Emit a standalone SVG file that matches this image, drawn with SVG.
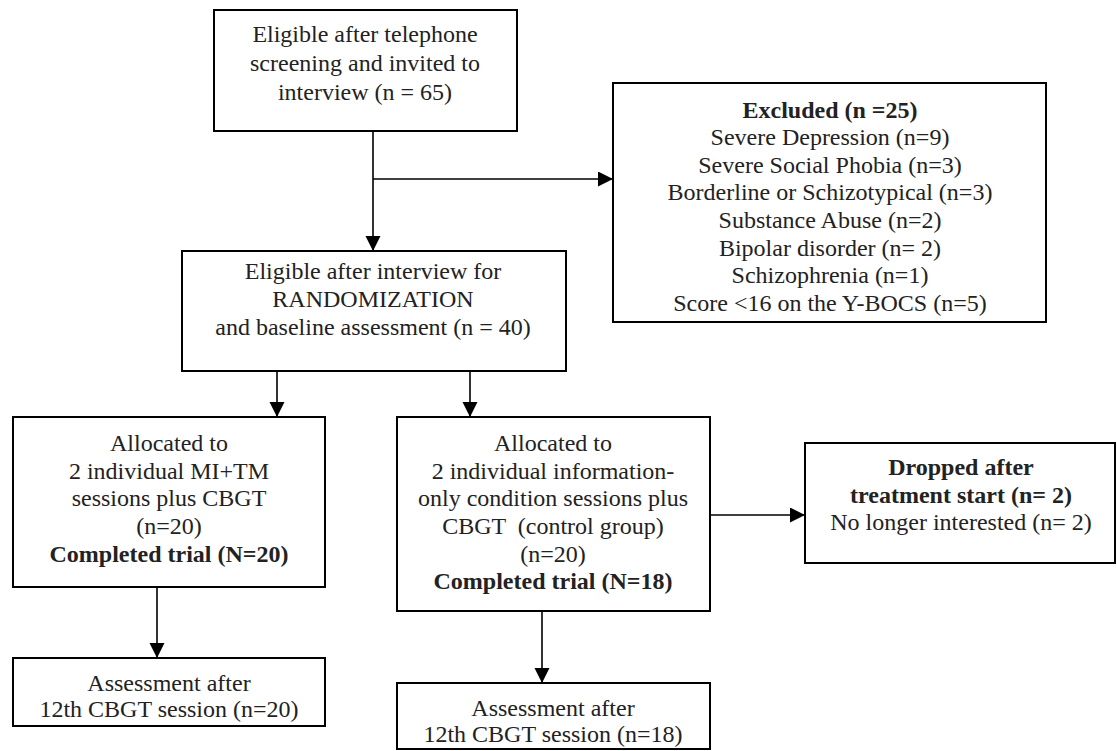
<svg xmlns="http://www.w3.org/2000/svg" width="1117" height="751" viewBox="0 0 1117 751" font-family="'Liberation Serif', 'Times New Roman', serif">
<style>
.box{fill:#fff;stroke:#000;stroke-width:2}
text{font-family:'Liberation Serif','Times New Roman',serif;font-size:24px;fill:#222;text-anchor:middle;white-space:pre}
.b{font-weight:bold}
.c{stroke:#000;stroke-width:1.6;fill:none;marker-end:url(#ah)}
</style>
<defs>
<marker id="ah" markerUnits="userSpaceOnUse" markerWidth="16" markerHeight="16" refX="15" refY="7.5" orient="auto">
<path d="M0,0 L15,7.5 L0,15 z" fill="#000"/>
</marker>
</defs>
<rect width="1117" height="751" fill="#fff"/>
<g id="connectors">
<line class="c" x1="373" y1="131" x2="373" y2="251"/>
<line class="c" x1="373" y1="179" x2="613" y2="179"/>
<line class="c" x1="277" y1="371" x2="277" y2="417"/>
<line class="c" x1="470" y1="371" x2="470" y2="417"/>
<line class="c" x1="710" y1="515" x2="805" y2="515"/>
<line class="c" x1="157" y1="587" x2="157" y2="658"/>
<line class="c" x1="542" y1="611" x2="542" y2="683"/>
</g>
<g id="n1">
<rect class="box" x="214" y="10" width="303" height="121"/>
<text x="365" y="42">Eligible after telephone</text>
<text x="365" y="71">screening and invited to</text>
<text x="365" y="100">interview (n = 65)</text>
</g>
<g id="excluded">
<rect class="box" x="613" y="83" width="433" height="239"/>
<text x="830" y="118" class="b">Excluded (n =25)</text>
<text x="830" y="145">Severe Depression (n=9)</text>
<text x="830" y="173">Severe Social Phobia (n=3)</text>
<text x="830" y="200">Borderline or Schizotypical (n=3)</text>
<text x="830" y="228">Substance Abuse (n=2)</text>
<text x="830" y="256">Bipolar disorder (n= 2)</text>
<text x="830" y="283">Schizophrenia (n=1)</text>
<text x="830" y="311">Score &lt;16 on the Y-BOCS (n=5)</text>
</g>
<g id="n2">
<rect class="box" x="182" y="251" width="384" height="120"/>
<text x="373" y="279">Eligible after interview for</text>
<text x="373" y="307">RANDOMIZATION</text>
<text x="373" y="335">and baseline assessment (n = 40)</text>
</g>
<g id="n3">
<rect class="box" x="13" y="417" width="312" height="170"/>
<text x="169" y="451">Allocated to</text>
<text x="169" y="479">2 individual MI+TM</text>
<text x="169" y="506">sessions plus CBGT</text>
<text x="169" y="534">(n=20)</text>
<text x="169" y="562" class="b">Completed trial (N=20)</text>
</g>
<g id="n4">
<rect class="box" x="397" y="417" width="313" height="194"/>
<text x="553" y="451">Allocated to</text>
<text x="553" y="479">2 individual information-</text>
<text x="553" y="506">only condition sessions plus</text>
<text x="553" y="534">CBGT  (control group)</text>
<text x="553" y="562">(n=20)</text>
<text x="553" y="589" class="b">Completed trial (N=18)</text>
</g>
<g id="dropped">
<rect class="box" x="805" y="443" width="310" height="120"/>
<text x="961" y="475" class="b">Dropped after</text>
<text x="961" y="503" class="b">treatment start (n= 2)</text>
<text x="961" y="530">No longer interested (n= 2)</text>
</g>
<g id="n5">
<rect class="box" x="13" y="658" width="312" height="68"/>
<text x="169" y="691">Assessment after</text>
<text x="169" y="717">12th CBGT session (n=20)</text>
</g>
<g id="n6">
<rect class="box" x="397" y="683" width="313" height="66"/>
<text x="553" y="716">Assessment after</text>
<text x="553" y="742">12th CBGT session (n=18)</text>
</g>
</svg>
